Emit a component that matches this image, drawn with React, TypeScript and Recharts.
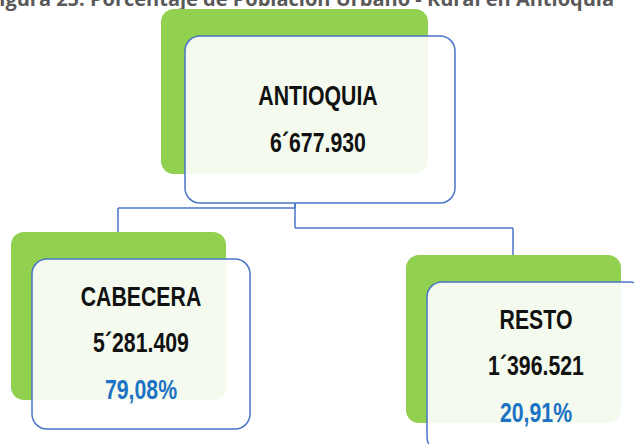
import { ComposedChart, Scatter, XAxis, YAxis, ReferenceLine, Customized } from 'recharts';

// diagram content
const nodeNames = ['ANTIOQUIA', 'CABECERA', 'RESTO'];
const population = [6677930, 5281409, 1396521];
const percentages: (number | null)[] = [null, 79.08, 20.91];
const parentIndex = [-1, 0, 0];
const title = 'Figura 25. Porcentaje de Población Urbano - Rural en Antioquia';

// layout (box centres, in chart units)
const layoutX = [320, 141, 536];
const layoutY = [119.5, 344, 367];
const busY = [0, 208, 228];
const childTopY = [0, 232, 255];
const childAnchorX = [295, 118, 513];

const W = 634;
const H = 444;
const GREEN = '#92d050';
const BLUE = '#4a76c6';
const FONT = '"Liberation Sans", Arial, sans-serif';

const fmtPop = (v: number) => {
  const m = Math.floor(v / 1e6);
  const rest = String(v % 1e6).padStart(6, '0');
  return `${m}´${rest.slice(0, 3)}.${rest.slice(3)}`;
};

const nodes = nodeNames.map((name, i) => ({
  x: layoutX[i],
  y: layoutY[i],
  name,
  value: fmtPop(population[i]),
  pct: percentages[i] == null ? null : `${percentages[i]!.toFixed(2).replace('.', ',')}%`,
  root: parentIndex[i] < 0,
}));

const NodeShape = (props: any) => {
  const { cx, cy, payload } = props;
  const w = payload.root ? 270 : 218;
  const h = payload.root ? 167 : 170;
  const gw = payload.root ? 267 : 215;
  const gx = cx - w / 2 - (payload.root ? 24 : 21);
  const gy = cy - h / 2 - 27;
  const tx = payload.root ? cx - 2 : cx;
  const lines = payload.root
    ? [{ t: payload.name, dy: -24.5 }, { t: payload.value, dy: 22.5 }]
    : [{ t: payload.name, dy: -48 }, { t: payload.value, dy: -2 }, { t: payload.pct, dy: 44.5, blue: true }];
  return (
    <g>
      <rect x={gx} y={gy} width={gw} height={h - 2} rx={13} fill={GREEN} />
      <rect x={cx - w / 2} y={cy - h / 2} width={w} height={h} rx={15} fill="#ffffff" fillOpacity={0.9} stroke={BLUE} strokeWidth={1.5} />
      {lines.map((l, k) => (
        <g key={k} transform={`translate(${tx},${cy + l.dy}) scale(0.76,1)`}>
          <text x={0} y={0} textAnchor="middle" dominantBaseline="central"
            fontFamily={FONT} fontWeight={700} fontSize={28} fill={l.blue ? '#1c72c4' : '#111111'}>
            {l.t}
          </text>
        </g>
      ))}
    </g>
  );
};

const Title = () => (
  <text x={614} y={6} textAnchor="end" fontFamily='"Open Sans", sans-serif' fontWeight={700} fontSize={20} fill="#595959">
    {title}
  </text>
);

export default function App() {
  return (
    <div style={{ position: 'absolute', left: 0, top: 0, width: W, height: H, background: '#ffffff' }}>
      <ComposedChart width={W} height={H} margin={{ top: 0, right: 0, bottom: 0, left: 0 }}>
        <XAxis type="number" dataKey="x" domain={[0, W]} hide />
        <YAxis type="number" dataKey="y" domain={[0, H]} reversed hide />
        <Customized component={Title} />
        {nodes.map((n, i) =>
          parentIndex[i] < 0 ? null : (
            <ReferenceLine key={`v${i}`} ifOverflow="visible" stroke={BLUE} strokeWidth={1.5}
              segment={[{ x: childAnchorX[0], y: 203 }, { x: childAnchorX[0], y: busY[i] }]} />
          )
        )}
        {nodes.map((n, i) =>
          parentIndex[i] < 0 ? null : (
            <ReferenceLine key={`h${i}`} ifOverflow="visible" stroke={BLUE} strokeWidth={1.5}
              segment={[{ x: childAnchorX[0], y: busY[i] }, { x: childAnchorX[i], y: busY[i] }]} />
          )
        )}
        {nodes.map((n, i) =>
          parentIndex[i] < 0 ? null : (
            <ReferenceLine key={`c${i}`} ifOverflow="visible" stroke={BLUE} strokeWidth={1.5}
              segment={[{ x: childAnchorX[i], y: busY[i] }, { x: childAnchorX[i], y: childTopY[i] }]} />
          )
        )}
        <Scatter data={nodes} shape={<NodeShape />} isAnimationActive={false} />
      </ComposedChart>
    </div>
  );
}
